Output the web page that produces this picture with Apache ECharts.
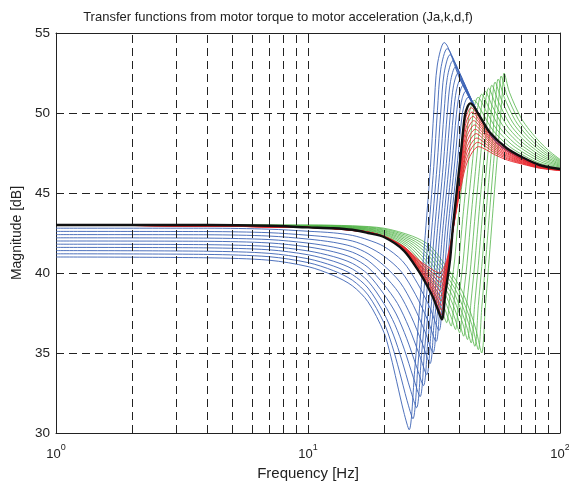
<!DOCTYPE html>
<html>
<head>
<meta charset="utf-8">
<title>Transfer functions</title>
<script src="https://cdn.jsdelivr.net/npm/echarts@6/dist/echarts.min.js"></script>
<style>
  html, body { margin: 0; padding: 0; background: #fff; }
  #chart { width: 569px; height: 483px; }
</style>
</head>
<body>
<div id="chart"></div>
<script>
// frequency [Hz], magnitude [dB]
var blackCurve = [[1,43.0],[4,43.0],[7,42.95],[10,42.85],[12.6,42.8],[15,42.7],[17.3,42.5],[20,42.25],[24,41.4],[27.8,40.0],[29.5,39.3],[31.3,38.5],[32.6,37.8],[34,37.1],[35,38.6],[36.6,40.8],[37.6,42.9],[40.2,47.1],[41.9,49.8],[43,50.4],[44.1,50.6],[48,49.8],[52.6,48.8],[61.5,47.8],[71.6,47.2],[83,46.75],[100,46.5]];

// load inertia (Ja) variation
var blueCurves = [
  [[1,42.8],[4,42.8],[7,42.74],[10,42.61],[12.6,42.51],[15,42.35],[17.3,42.07],[20,41.66],[23.73,40.74],[27.27,39.32],[30.57,37.78],[33.12,36.41],[34.15,38.13],[35.71,40.5],[36.74,42.79],[39.24,47.05],[40.87,49.84],[41.96,50.66],[43.16,50.98],[47.21,50.03],[51.86,48.88],[56,48.15],[71,47.1],[84,46.65],[100,46.45]],
  [[1,42.6],[4,42.59],[7,42.52],[10,42.36],[12.6,42.21],[15,42.0],[17.3,41.64],[20,41.06],[23.46,40.08],[26.74,38.64],[29.84,37.06],[32.24,35.72],[33.3,37.66],[34.82,40.2],[35.88,42.68],[38.28,47.0],[39.84,49.88],[40.92,50.92],[42.22,51.36],[46.42,50.26],[51.12,49.06],[56,48.15],[71,47.1],[84,46.65],[100,46.45]],
  [[1,42.4],[4,42.39],[7,42.31],[10,42.12],[12.6,41.92],[15,41.65],[17.3,41.21],[20,40.47],[23.19,39.42],[26.21,37.96],[29.11,36.34],[31.36,35.03],[32.45,37.19],[33.93,39.9],[35.02,42.57],[37.32,46.95],[38.81,49.92],[39.88,51.18],[41.28,51.74],[45.63,50.49],[50.38,49.24],[56,48.15],[71,47.1],[84,46.65],[100,46.45]],
  [[1,42.2],[4,42.18],[7,42.09],[10,41.87],[12.6,41.62],[15,41.3],[17.3,40.78],[20,39.87],[22.92,38.76],[25.68,37.28],[28.38,35.62],[30.48,34.34],[31.6,36.72],[33.04,39.6],[34.16,42.46],[36.36,46.9],[37.78,49.96],[38.84,51.44],[40.34,52.12],[44.84,50.72],[49.64,49.42],[56,48.15],[71,47.1],[84,46.65],[100,46.45]],
  [[1,42.0],[4,41.98],[7,41.88],[10,41.63],[12.6,41.33],[15,40.95],[17.3,40.35],[20,39.28],[22.65,38.1],[25.15,36.6],[27.65,34.9],[29.6,33.65],[30.75,36.25],[32.15,39.3],[33.3,42.35],[35.4,46.85],[36.75,50.0],[37.8,51.7],[39.4,52.5],[44.05,50.95],[48.9,49.6],[56,48.15],[71,47.1],[84,46.65],[100,46.45]],
  [[1,41.8],[4,41.77],[7,41.66],[10,41.38],[12.6,41.03],[15,40.6],[17.3,39.92],[20,38.68],[22.38,37.44],[24.62,35.92],[26.92,34.18],[28.72,32.96],[29.9,35.78],[31.26,39.0],[32.44,42.24],[34.44,46.8],[35.72,50.04],[36.76,51.96],[38.46,52.88],[43.26,51.18],[48.16,49.78],[56,48.15],[71,47.1],[84,46.65],[100,46.45]],
  [[1,41.6],[4,41.57],[7,41.45],[10,41.14],[12.6,40.74],[15,40.25],[17.3,39.49],[20,38.09],[22.11,36.78],[24.09,35.24],[26.19,33.46],[27.84,32.27],[29.05,35.31],[30.37,38.7],[31.58,42.13],[33.48,46.75],[34.69,50.08],[35.72,52.22],[37.52,53.26],[42.47,51.41],[47.42,49.96],[56,48.15],[71,47.1],[84,46.65],[100,46.45]],
  [[1,41.4],[4,41.36],[7,41.23],[10,40.89],[12.6,40.44],[15,39.9],[17.3,39.06],[20,37.49],[21.84,36.12],[23.56,34.56],[25.46,32.74],[26.96,31.58],[28.2,34.84],[29.48,38.4],[30.72,42.02],[32.52,46.7],[33.66,50.12],[34.68,52.48],[36.58,53.64],[41.68,51.64],[46.68,50.14],[56,48.15],[71,47.1],[84,46.65],[100,46.45]],
  [[1,41.2],[4,41.16],[7,41.02],[10,40.65],[12.6,40.15],[15,39.55],[17.3,38.63],[20,36.9],[21.57,35.46],[23.03,33.88],[24.73,32.02],[26.08,30.89],[27.35,34.37],[28.59,38.1],[29.86,41.91],[31.56,46.65],[32.63,50.16],[33.64,52.74],[35.64,54.02],[40.89,51.87],[45.94,50.32],[56,48.15],[71,47.1],[84,46.65],[100,46.45]],
  [[1,41.0],[4,40.95],[7,40.8],[10,40.4],[12.6,39.85],[15,39.2],[17.3,38.2],[20,36.3],[21.3,34.8],[22.5,33.2],[24,31.3],[25.2,30.2],[26.5,33.9],[27.7,37.8],[29,41.8],[30.6,46.6],[31.6,50.2],[32.6,53.0],[34.7,54.4],[40.1,52.1],[45.2,50.5],[56,48.15],[71,47.1],[84,46.65],[100,46.45]]
];

// stiffness (k) variation
var greenCurves = [
  [[1,43.0],[10,42.87],[15,42.73],[20,42.31],[24.2,41.49],[28.07,40.17],[29.98,39.44],[32.19,38.56],[33.74,37.78],[34.62,37.3],[35.49,36.89],[36.55,38.52],[38.14,40.75],[39.34,43.13],[41.93,47.28],[43.61,49.94],[45.69,50.79],[49.5,49.95],[54.34,48.89],[62.95,47.91],[72.74,47.3],[83.8,46.84],[100,46.56]],
  [[1,43.0],[10,42.88],[15,42.75],[20,42.36],[24.4,41.58],[28.34,40.34],[30.46,39.58],[33.08,38.62],[34.88,37.76],[35.94,37.2],[36.98,36.68],[38.1,38.44],[39.68,40.7],[41.08,43.36],[43.66,47.46],[45.32,50.08],[47.28,50.98],[51,50.1],[56.08,48.98],[64.4,48.02],[73.88,47.4],[84.6,46.92],[100,46.62]],
  [[1,43.0],[10,42.9],[15,42.78],[20,42.42],[24.6,41.67],[28.61,40.51],[30.94,39.72],[33.97,38.68],[36.02,37.74],[37.26,37.1],[38.47,36.47],[39.65,38.36],[41.22,40.65],[42.82,43.59],[45.39,47.64],[47.03,50.22],[48.87,51.17],[52.5,50.25],[57.82,49.07],[65.85,48.13],[75.02,47.5],[85.4,47.01],[100,46.68]],
  [[1,43.0],[10,42.91],[15,42.8],[20,42.47],[24.8,41.76],[28.88,40.68],[31.42,39.86],[34.86,38.74],[37.16,37.72],[38.58,37.0],[39.96,36.26],[41.2,38.28],[42.76,40.6],[44.56,43.82],[47.12,47.82],[48.74,50.36],[50.46,51.36],[54,50.4],[59.56,49.16],[67.3,48.24],[76.16,47.6],[86.2,47.09],[100,46.74]],
  [[1,43.0],[10,42.93],[15,42.83],[20,42.53],[25,41.85],[29.15,40.85],[31.9,40.0],[35.75,38.8],[38.3,37.7],[39.9,36.9],[41.45,36.05],[42.75,38.2],[44.3,40.55],[46.3,44.05],[48.85,48.0],[50.45,50.5],[52.05,51.55],[55.5,50.55],[61.3,49.25],[68.75,48.35],[77.3,47.7],[87,47.18],[100,46.8]],
  [[1,43.0],[10,42.94],[15,42.85],[20,42.58],[25.2,41.94],[29.42,41.02],[32.38,40.14],[36.64,38.86],[39.44,37.68],[41.22,36.8],[42.94,35.84],[44.3,38.12],[45.84,40.5],[48.04,44.28],[50.58,48.18],[52.16,50.64],[53.64,51.74],[57,50.7],[63.04,49.34],[70.2,48.46],[78.44,47.8],[87.8,47.26],[100,46.86]],
  [[1,43.0],[10,42.96],[15,42.88],[20,42.64],[25.4,42.03],[29.69,41.19],[32.86,40.28],[37.53,38.92],[40.58,37.66],[42.54,36.7],[44.43,35.63],[45.85,38.04],[47.38,40.45],[49.78,44.51],[52.31,48.36],[53.87,50.78],[55.23,51.93],[58.5,50.85],[64.78,49.43],[71.65,48.57],[79.58,47.9],[88.6,47.35],[100,46.92]],
  [[1,43.0],[10,42.97],[15,42.9],[20,42.69],[25.6,42.12],[29.96,41.36],[33.34,40.42],[38.42,38.98],[41.72,37.64],[43.86,36.6],[45.92,35.42],[47.4,37.96],[48.92,40.4],[51.52,44.74],[54.04,48.54],[55.58,50.92],[56.82,52.12],[60,51.0],[66.52,49.52],[73.1,48.68],[80.72,48.0],[89.4,47.43],[100,46.98]],
  [[1,43.0],[10,42.99],[15,42.93],[20,42.75],[25.8,42.21],[30.23,41.53],[33.82,40.56],[39.31,39.04],[42.86,37.62],[45.18,36.5],[47.41,35.21],[48.95,37.88],[50.46,40.35],[53.26,44.97],[55.77,48.72],[57.29,51.06],[58.41,52.31],[61.5,51.15],[68.26,49.61],[74.55,48.79],[81.86,48.1],[90.2,47.52],[100,47.04]],
  [[1,43.0],[10,43.0],[15,42.95],[20,42.8],[26,42.3],[30.5,41.7],[34.3,40.7],[40.2,39.1],[44,37.6],[46.5,36.4],[48.9,35.0],[50.5,37.8],[52,40.3],[55,45.2],[57.5,48.9],[59,51.2],[60,52.5],[63,51.3],[70,49.7],[76,48.9],[83,48.2],[91,47.6],[100,47.1]]
];

// damping (d) variation
var redCurves = [
  [[1,43.0],[10,42.85],[16,42.6],[20,42.26],[24,41.43],[27.8,40.08],[31.22,38.68],[32.54,38.03],[33.93,37.39],[35,38.79],[36.6,40.89],[37.64,42.92],[40.23,46.93],[42.01,49.52],[44.44,50.33],[48.3,49.59],[52.84,48.66],[62,47.73],[71,47.16],[83,46.73],[100,46.49]],
  [[1,43.0],[10,42.85],[16,42.61],[20,42.26],[24,41.45],[27.8,40.15],[31.14,38.86],[32.48,38.26],[33.86,37.68],[35,38.98],[36.6,40.98],[37.68,42.94],[40.26,46.76],[42.12,49.24],[44.78,50.06],[48.6,49.38],[53.08,48.52],[62,47.65],[71,47.12],[83,46.71],[100,46.48]],
  [[1,43.0],[10,42.85],[16,42.62],[20,42.27],[24,41.48],[27.8,40.23],[31.06,39.04],[32.42,38.49],[33.79,37.97],[35,39.17],[36.6,41.07],[37.72,42.96],[40.29,46.59],[42.23,48.96],[45.12,49.79],[48.9,49.17],[53.32,48.38],[62,47.58],[71,47.08],[83,46.69],[100,46.47]],
  [[1,43.0],[10,42.85],[16,42.62],[20,42.27],[24,41.5],[27.8,40.3],[30.98,39.22],[32.36,38.72],[33.72,38.26],[35,39.36],[36.6,41.16],[37.76,42.98],[40.32,46.42],[42.34,48.68],[45.46,49.52],[49.2,48.96],[53.56,48.24],[62,47.5],[71,47.04],[83,46.67],[100,46.46]],
  [[1,43.0],[10,42.85],[16,42.63],[20,42.28],[24,41.53],[27.8,40.38],[30.9,39.4],[32.3,38.95],[33.65,38.55],[35,39.55],[36.6,41.25],[37.8,43.0],[40.35,46.25],[42.45,48.4],[45.8,49.25],[49.5,48.75],[53.8,48.1],[62,47.43],[71,47.0],[83,46.65],[100,46.45]],
  [[1,43.0],[10,42.85],[16,42.63],[20,42.28],[24,41.55],[27.8,40.45],[30.82,39.58],[32.24,39.18],[33.58,38.84],[35,39.74],[36.6,41.34],[37.84,43.02],[40.38,46.08],[42.56,48.12],[46.14,48.98],[49.8,48.54],[54.04,47.96],[62,47.35],[71,46.96],[83,46.63],[100,46.44]],
  [[1,43.0],[10,42.85],[16,42.64],[20,42.29],[24,41.58],[27.8,40.53],[30.74,39.76],[32.18,39.41],[33.51,39.13],[35,39.93],[36.6,41.43],[37.88,43.04],[40.41,45.91],[42.67,47.84],[46.48,48.71],[50.1,48.33],[54.28,47.82],[62,47.28],[71,46.92],[83,46.61],[100,46.43]],
  [[1,43.0],[10,42.85],[16,42.64],[20,42.29],[24,41.6],[27.8,40.6],[30.66,39.94],[32.12,39.64],[33.44,39.42],[35,40.12],[36.6,41.52],[37.92,43.06],[40.44,45.74],[42.78,47.56],[46.82,48.44],[50.4,48.12],[54.52,47.68],[62,47.2],[71,46.88],[83,46.59],[100,46.42]],
  [[1,43.0],[10,42.85],[16,42.65],[20,42.3],[24,41.63],[27.8,40.68],[30.58,40.12],[32.06,39.87],[33.37,39.71],[35,40.31],[36.6,41.61],[37.96,43.08],[40.47,45.57],[42.89,47.28],[47.16,48.17],[50.7,47.91],[54.76,47.54],[62,47.13],[71,46.84],[83,46.57],[100,46.41]],
  [[1,43.0],[10,42.85],[16,42.65],[20,42.3],[24,41.65],[27.8,40.75],[30.5,40.3],[32,40.1],[33.3,40.0],[35,40.5],[36.6,41.7],[38,43.1],[40.5,45.4],[43,47.0],[47.5,47.9],[51,47.7],[55,47.4],[62,47.05],[71,46.8],[83,46.55],[100,46.4]]
];

var gridFreqs = [2, 3, 4, 5, 6, 7, 8, 9, 10, 20, 30, 40, 50, 60, 70, 80, 90];
var yTicks = [30, 35, 40, 45, 50, 55];

var FONT = 'Liberation Sans';
var chart = echarts.init(document.getElementById('chart'), null, {renderer: 'canvas'});

function curveSeries(data, color, width, z) {
    return {
        type: 'line',
        data: data,
        showSymbol: false,
        smooth: 0.3,
        silent: true,
        z: z,
        lineStyle: {color: color, width: width},
        emphasis: {disabled: true}
    };
}

var series = [{
    type: 'line',
    data: [],
    silent: true,
    z: 1,
    markLine: {
        silent: true,
        symbol: ['none', 'none'],
        label: {show: false},
        animation: false,
        lineStyle: {color: '#222', width: 1, type: [8, 5]},
        emphasis: {disabled: true},
        data: gridFreqs.map(function (f) { return {xAxis: f}; })
    }
}];
greenCurves.forEach(function (c) { series.push(curveSeries(c, '#52b447', 0.8, 2)); });
blueCurves.forEach(function (c) { series.push(curveSeries(c, '#3b62b4', 0.9, 3)); });
redCurves.forEach(function (c) { series.push(curveSeries(c, '#e8272c', 0.9, 4)); });
series.push(curveSeries(blackCurve, '#111', 2.4, 5));

var axisCommon = {
    axisLine: {show: true, lineStyle: {color: '#222', width: 1}},
    axisTick: {show: true, inside: true, length: 5, lineStyle: {color: '#222'}}
};

chart.setOption({
    animation: false,
    backgroundColor: '#fff',
    textStyle: {fontFamily: FONT},
    title: {
        text: 'Transfer functions from motor torque to motor acceleration (Ja,k,d,f)',
        left: 273,
        top: 6,
        textAlign: 'center',
        textStyle: {fontSize: 13, fontWeight: 'normal', color: '#222', fontFamily: FONT}
    },
    grid: {left: 56, right: 9, top: 33, bottom: 50, outerBoundsMode: 'none', containLabel: false},
    xAxis: [
        Object.assign({
            type: 'log', logBase: 10, min: 1, max: 100, position: 'bottom',
            name: 'Frequency [Hz]', nameLocation: 'middle', nameGap: 30,
            nameTextStyle: {fontSize: 15, color: '#222', fontFamily: FONT},
            splitLine: {show: false},
            axisLabel: {
                margin: 10,
                formatter: function (v) {
                    return '{b|10}{e|' + Math.round(Math.log10(v)) + '}';
                },
                rich: {
                    b: {fontSize: 13, color: '#222', fontFamily: FONT, verticalAlign: 'bottom', lineHeight: 18},
                    e: {fontSize: 9, color: '#222', fontFamily: FONT, verticalAlign: 'top', lineHeight: 18}
                }
            }
        }, axisCommon),
        Object.assign({
            type: 'log', logBase: 10, min: 1, max: 100, position: 'top',
            axisLabel: {show: false}, splitLine: {show: false}
        }, axisCommon)
    ],
    yAxis: [
        Object.assign({
            type: 'value', min: yTicks[0], max: yTicks[yTicks.length - 1], interval: 5, position: 'left',
            name: 'Magnitude [dB]', nameLocation: 'middle', nameGap: 31,
            nameTextStyle: {fontSize: 14, color: '#222', fontFamily: FONT},
            axisLabel: {margin: 6, fontSize: 13.5, color: '#222', fontFamily: FONT},
            splitLine: {show: true, lineStyle: {color: '#222', width: 1, type: [8, 5]}}
        }, axisCommon),
        Object.assign({
            type: 'value', min: yTicks[0], max: yTicks[yTicks.length - 1], interval: 5, position: 'right',
            axisLabel: {show: false}, splitLine: {show: false}
        }, axisCommon)
    ],
    series: series
});
</script>
</body>
</html>
